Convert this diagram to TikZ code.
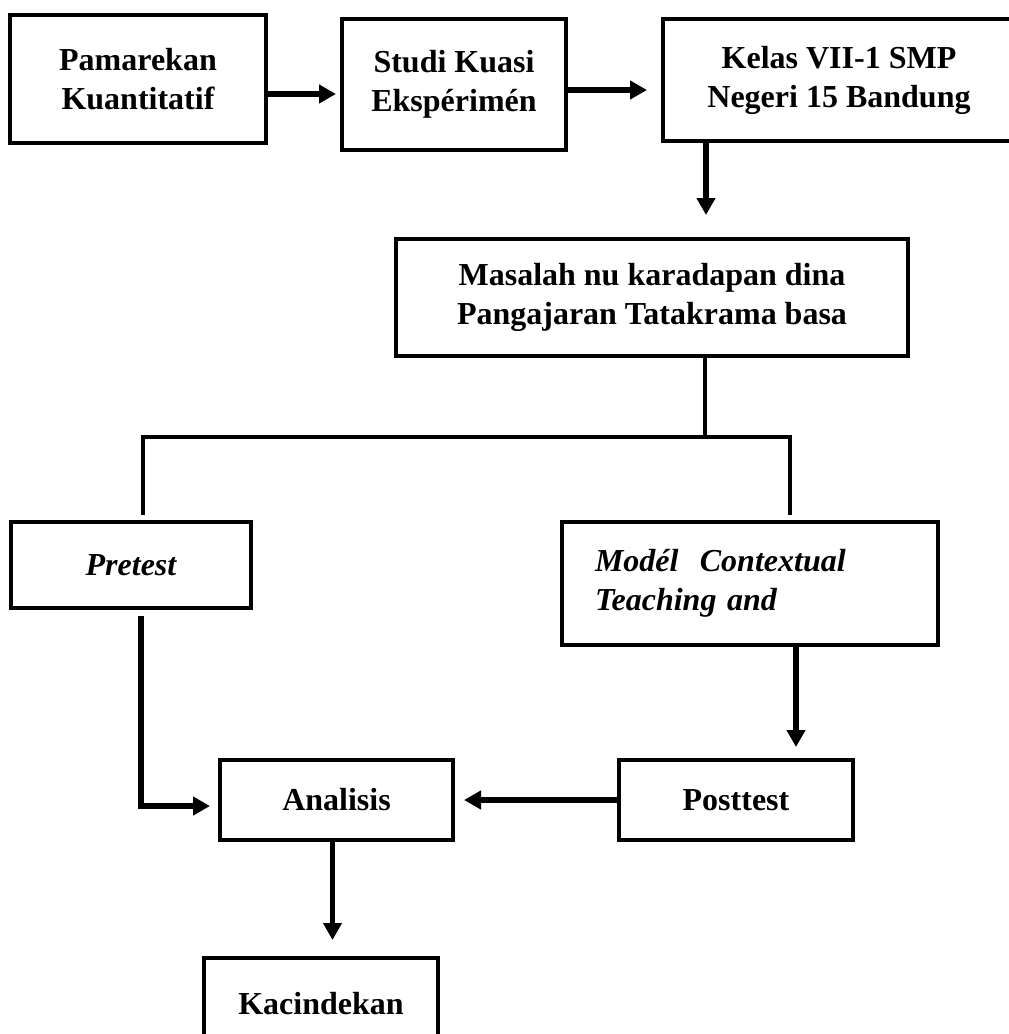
\documentclass[tikz,border=0pt]{standalone}
\usepackage{fontspec}
\setmainfont{Liberation Serif}
\usetikzlibrary{arrows.meta}
\usetikzlibrary{positioning}

\begin{document}
\begin{tikzpicture}[x=0.5pt, y=-0.5pt,
  box/.style={draw, rectangle, line width=2pt, inner sep=0pt, align=center, font=\fontsize{16pt}{19.5pt}\selectfont\bfseries},
  arr/.style={line width=2.8pt, -{Triangle[length=8.5pt, width=9pt]}},
  link/.style={line width=2.4pt}]
  \useasboundingbox (0,0) rectangle (1008,1034);

  \node[box, minimum width=128pt, minimum height=64pt] (pamarekan) at (138,79) {Pamarekan\\Kuantitatif};
  \node[box, minimum width=112pt, minimum height=65.5pt] (studi) at (454,84.5) {Studi Kuasi\\Ekspérimén};
  \node[box, minimum width=176pt, minimum height=61pt] (kelas) at (839,80) {Kelas VII-1 SMP\\Negeri 15 Bandung};

  \node[box, minimum width=256pt, minimum height=58.5pt] (masalah) at (652,297.5) {Masalah nu karadapan dina\\Pangajaran Tatakrama basa};

  \node[box, minimum width=120pt, minimum height=43pt, font=\fontsize{16pt}{19.5pt}\selectfont\bfseries\itshape] (pretest) at (131,565) {Pretest};
  \node[box, minimum width=188pt, minimum height=61.5pt, text width=155pt, align=left, font=\fontsize{16pt}{19.5pt}\selectfont\bfseries\itshape] (model) at (750,583.5) {Modél\ \ Contextual\\Teaching and};

  \node[box, minimum width=116.5pt, minimum height=40pt] (analisis) at (336.5,800) {Analisis};
  \node[box, minimum width=117pt, minimum height=40pt] (posttest) at (736,800) {Posttest};

  \node[box, minimum width=117pt, minimum height=46pt] (kacindekan) at (321,1004) {Kacindekan};

  \coordinate (stem) at (705,437);
  \coordinate (barL) at (143,437);
  \coordinate (barR) at (790,437);

  \draw[arr, shorten >=2pt] ([yshift=-7.5pt]pamarekan.east) -- ([yshift=-7.5pt]pamarekan.east -| studi.west);
  \draw[arr, shorten >=7pt] ([yshift=-2.75pt]studi.east) -- ([yshift=-2.75pt]studi.east -| kelas.west);
  \draw[arr, shorten >=11pt] ([xshift=-66.5pt]kelas.south) -- ([xshift=-66.5pt]kelas.south |- masalah.north);

  \draw[link] (stem |- masalah.south) -- (stem);
  \draw[link, shorten <=2.5pt, shorten >=2.5pt] (barL |- pretest.north) -- (barL) -- (barR) -- (barR |- model.north);

  \draw[arr, shorten <=3pt, shorten >=4pt] ([xshift=5pt]pretest.south) |- ([yshift=-3pt]analisis.west);
  \draw[arr, shorten >=5.5pt] ([xshift=23pt]model.south) -- ([xshift=23pt]model.south |- posttest.north);
  \draw[arr, shorten >=4.5pt] (posttest.west) -- (analisis.east);
  \draw[arr, shorten >=8pt] ([xshift=-2pt]analisis.south) -- ([xshift=-2pt]analisis.south |- kacindekan.north);
\end{tikzpicture}
\end{document}
